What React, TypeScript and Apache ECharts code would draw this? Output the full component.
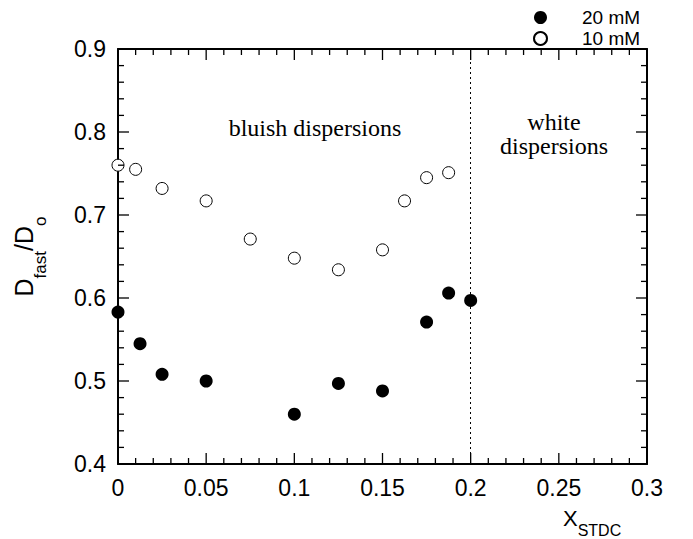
import React, { useEffect, useRef } from "react";
import * as echarts from "echarts";

// 20 mM (filled circles)
const x20 = [0, 0.0125, 0.025, 0.05, 0.1, 0.125, 0.15, 0.175, 0.1875, 0.2];
const y20 = [0.583, 0.545, 0.508, 0.5, 0.46, 0.497, 0.488, 0.571, 0.606, 0.597];
// 10 mM (open circles)
const x10 = [0, 0.01, 0.025, 0.05, 0.075, 0.1, 0.125, 0.15, 0.1625, 0.175, 0.1875];
const y10 = [0.76, 0.755, 0.732, 0.717, 0.671, 0.648, 0.634, 0.658, 0.717, 0.745, 0.751];

const seriesNames = ["20 mM", "10 mM"];
const boundaryX = 0.2;
const xRange = [0, 0.3];
const yRange = [0.4, 0.9];
const xStep = 0.05;
const yStep = 0.1;

// tick positions (major / minor)
const xMajorTicks = [0, 0.05, 0.1, 0.15, 0.2, 0.25, 0.3];
const xMinorTicks = [
  0.01, 0.02, 0.03, 0.04, 0.06, 0.07, 0.08, 0.09, 0.11, 0.12, 0.13, 0.14,
  0.16, 0.17, 0.18, 0.19, 0.21, 0.22, 0.23, 0.24, 0.26, 0.27, 0.28, 0.29,
];
const yMajorTicks = [0.4, 0.5, 0.6, 0.7, 0.8, 0.9];
const yMinorTicks = [
  0.42, 0.44, 0.46, 0.48, 0.52, 0.54, 0.56, 0.58, 0.62, 0.64,
  0.66, 0.68, 0.72, 0.74, 0.76, 0.78, 0.82, 0.84, 0.86, 0.88,
];

const SANS = "'Liberation Sans', Arial, sans-serif";
const SERIF = "'Liberation Serif', 'Times New Roman', serif";
const MAJOR_LEN = 11;
const MINOR_LEN = 6;
const TICK_STYLE = { stroke: "#000", lineWidth: 1.3 };

function axis(range: number[], step: number, position: string, label: any) {
  return {
    type: "value",
    min: range[0],
    max: range[1],
    interval: step,
    position,
    axisLine: { show: true, onZero: false, lineStyle: { color: "#000", width: 2 } },
    axisTick: { show: false },
    minorTick: { show: false },
    splitLine: { show: false },
    axisLabel: label,
  };
}

export default function App() {
  const ref = useRef<HTMLDivElement>(null);
  useEffect(() => {
    if (!ref.current) return;
    const chart = echarts.init(ref.current, undefined, { renderer: "svg" });
    const lbl = { show: true, fontFamily: SANS, fontSize: 23, color: "#000", margin: 12 };
    const noLbl = { show: false };

    const xTickData = [
      ...xMajorTicks.map((v) => [v, yRange[0], 1]),
      ...xMinorTicks.map((v) => [v, yRange[0], 0]),
    ];
    const yTickData = [
      ...yMajorTicks.map((v) => [xRange[0], v, 1]),
      ...yMinorTicks.map((v) => [xRange[0], v, 0]),
    ];

    chart.setOption({
      animation: false,
      grid: { left: 118, right: 46, top: 49, bottom: 75 },
      legend: {
        orient: "vertical",
        left: 528,
        top: 3,
        itemWidth: 13,
        itemHeight: 13,
        itemGap: 2,
        data: seriesNames,
        textStyle: {
          fontFamily: SANS,
          fontSize: 19,
          color: "#000",
          lineHeight: 18,
          padding: [0, 0, 0, 30],
        },
      },
      xAxis: [axis(xRange, xStep, "bottom", lbl), axis(xRange, xStep, "top", noLbl)],
      yAxis: [
        {
          ...axis(yRange, yStep, "left", lbl),
          name: "{m|D}{s|fast}{m|/D}{s|o}",
          nameLocation: "middle",
          nameRotate: 90,
          nameGap: 69,
          nameTextStyle: {
            fontFamily: SANS,
            color: "#000",
            rich: {
              m: { fontFamily: SANS, fontSize: 25, lineHeight: 50, color: "#000" },
              s: { fontFamily: SANS, fontSize: 17, lineHeight: 17, verticalAlign: "bottom", color: "#000" },
            },
          },
        },
        axis(yRange, yStep, "right", noLbl),
      ],
      graphic: [
        {
          type: "text",
          x: 315,
          y: 128,
          style: {
            text: "bluish dispersions",
            font: `24px ${SERIF}`,
            fill: "#000",
            align: "center",
            verticalAlign: "middle",
          },
        },
        {
          type: "text",
          x: 554,
          y: 134,
          style: {
            text: "white\ndispersions",
            font: `24px ${SERIF}`,
            fill: "#000",
            align: "center",
            verticalAlign: "middle",
            lineHeight: 24,
          },
        },
        {
          type: "text",
          x: 563,
          y: 498,
          style: {
            text: "{m|X}{s|STDC}",
            align: "left",
            verticalAlign: "top",
            fill: "#000",
            rich: {
              m: { fontFamily: SANS, fontSize: 22, lineHeight: 40, fill: "#000" },
              s: { fontFamily: SANS, fontSize: 16, lineHeight: 16, verticalAlign: "bottom", fill: "#000" },
            },
          },
        },
      ],
      series: [
        {
          name: seriesNames[0],
          type: "scatter",
          xAxisIndex: 0,
          yAxisIndex: 0,
          symbol: "circle",
          symbolSize: 13,
          itemStyle: { color: "#000", opacity: 1 },
          data: x20.map((x, i) => [x, y20[i]]),
          markLine: {
            silent: true,
            symbol: "none",
            label: { show: false },
            lineStyle: { color: "#000", width: 1, type: [2, 3] },
            data: [{ xAxis: boundaryX }],
          },
          z: 3,
        },
        {
          name: seriesNames[1],
          type: "scatter",
          xAxisIndex: 0,
          yAxisIndex: 0,
          symbol: "circle",
          symbolSize: 12,
          itemStyle: { color: "#fff", borderColor: "#000", borderWidth: 1, opacity: 1 },
          data: x10.map((x, i) => [x, y10[i]]),
          z: 3,
        },
        {
          name: "xTicks",
          type: "custom",
          xAxisIndex: 0,
          yAxisIndex: 0,
          silent: true,
          clip: false,
          z: 5,
          encode: { x: 0, y: 1 },
          data: xTickData,
          renderItem: (params: any, api: any) => {
            const cs = params.coordSys;
            const px = api.coord([api.value(0), yRange[0]])[0];
            const len = api.value(2) ? MAJOR_LEN : MINOR_LEN;
            const bottom = cs.y + cs.height;
            return {
              type: "group",
              children: [
                { type: "line", shape: { x1: px, y1: bottom, x2: px, y2: bottom - len }, style: TICK_STYLE },
                { type: "line", shape: { x1: px, y1: cs.y, x2: px, y2: cs.y + len }, style: TICK_STYLE },
              ],
            };
          },
        },
        {
          name: "yTicks",
          type: "custom",
          xAxisIndex: 0,
          yAxisIndex: 0,
          silent: true,
          clip: false,
          z: 5,
          encode: { x: 0, y: 1 },
          data: yTickData,
          renderItem: (params: any, api: any) => {
            const cs = params.coordSys;
            const py = api.coord([xRange[0], api.value(1)])[1];
            const len = api.value(2) ? MAJOR_LEN : MINOR_LEN;
            const right = cs.x + cs.width;
            return {
              type: "group",
              children: [
                { type: "line", shape: { x1: cs.x, y1: py, x2: cs.x + len, y2: py }, style: TICK_STYLE },
                { type: "line", shape: { x1: right, y1: py, x2: right - len, y2: py }, style: TICK_STYLE },
              ],
            };
          },
        },
      ],
    });
    return () => chart.dispose();
  }, []);
  return (
    <div
      ref={ref}
      style={{ position: "fixed", left: 0, top: 0, width: 693, height: 539, background: "#fff" }}
    />
  );
}
